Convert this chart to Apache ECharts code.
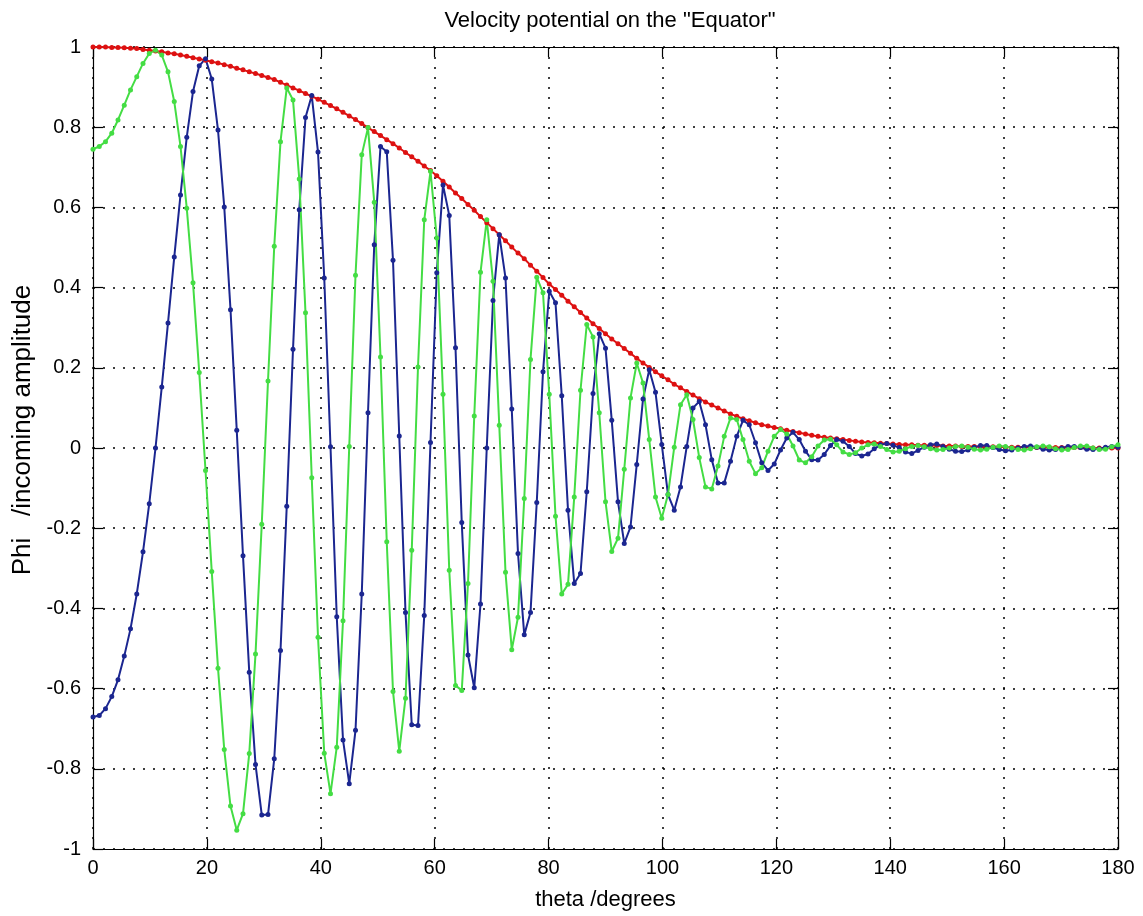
<!DOCTYPE html>
<html>
<head>
<meta charset="utf-8">
<script src="https://cdn.jsdelivr.net/npm/echarts@6/dist/echarts.min.js"></script>
<style>
html,body{margin:0;padding:0;background:#fff;}
#chart{width:1143px;height:916px;}
</style>
</head>
<body>
<div id="chart"></div>
<script>
// Sampling grid: 165 samples spanning 0..180 degrees
const THETA_MAX = 180;
const N_SAMPLES = 165;
const xTicks = [0, 20, 40, 60, 80, 100, 120, 140, 160, 180];
const yTicks = [-1, -0.8, -0.6, -0.4, -0.2, 0, 0.2, 0.4, 0.6, 0.8, 1];

// Red envelope curve
const redPhi = [1.000,1.000,1.000,0.999,0.999,0.998,0.997,0.996,0.994,0.992,
0.990,0.988,0.985,0.983,0.980,0.977,0.973,0.970,0.967,0.963,
0.960,0.956,0.952,0.947,0.943,0.938,0.934,0.929,0.924,0.919,
0.912,0.905,0.898,0.891,0.884,0.877,0.870,0.862,0.854,0.846,
0.837,0.828,0.819,0.809,0.799,0.789,0.779,0.769,0.759,0.748,
0.737,0.726,0.715,0.703,0.692,0.679,0.665,0.651,0.636,0.622,
0.607,0.593,0.577,0.562,0.547,0.532,0.517,0.501,0.486,0.472,
0.456,0.441,0.425,0.409,0.395,0.381,0.366,0.352,0.338,0.324,
0.310,0.298,0.285,0.272,0.260,0.248,0.236,0.224,0.212,0.201,
0.190,0.180,0.170,0.159,0.150,0.141,0.132,0.123,0.115,0.107,
0.100,0.092,0.085,0.079,0.073,0.068,0.063,0.058,0.055,0.051,
0.048,0.044,0.041,0.038,0.035,0.032,0.029,0.027,0.025,0.023,
0.021,0.019,0.017,0.015,0.014,0.013,0.012,0.011,0.010,0.009,
0.008,0.008,0.007,0.007,0.006,0.006,0.005,0.005,0.005,0.004,
0.004,0.004,0.003,0.003,0.003,0.003,0.002,0.002,0.002,0.002,
0.002,0.001,0.001,0.001,0.001,0.001,0.001,0.001,0.001,0.000,
0.000,0.000,0.000,0.000,0.000];

// Blue curve
const bluePhi = [-0.671,-0.667,-0.650,-0.620,-0.578,-0.519,-0.451,-0.364,-0.259,-0.139,
0.000,0.152,0.312,0.476,0.631,0.775,0.889,0.953,0.971,0.920,
0.793,0.601,0.345,0.044,-0.269,-0.559,-0.789,-0.915,-0.914,-0.775,
-0.505,-0.145,0.246,0.594,0.824,0.879,0.738,0.424,0.003,-0.421,
-0.728,-0.837,-0.704,-0.364,0.088,0.507,0.752,0.739,0.468,0.030,
-0.410,-0.690,-0.692,-0.418,0.014,0.437,0.656,0.580,0.250,-0.186,
-0.516,-0.598,-0.389,0.000,0.368,0.532,0.424,0.097,-0.263,-0.466,
-0.410,-0.136,0.190,0.391,0.362,0.130,-0.155,-0.338,-0.313,-0.109,
0.136,0.285,0.249,0.069,-0.134,-0.238,-0.197,-0.041,0.122,0.195,
0.139,0.009,-0.116,-0.155,-0.097,0.004,0.100,0.116,0.058,-0.029,
-0.087,-0.087,-0.033,0.029,0.069,0.058,0.013,-0.037,-0.056,-0.040,
-0.005,0.025,0.039,0.021,-0.008,-0.029,-0.030,-0.016,0.006,0.021,
0.017,0.004,-0.014,-0.020,-0.015,-0.002,0.008,0.011,0.007,0.001,
-0.010,-0.014,-0.006,0.002,0.008,0.010,0.004,-0.003,-0.008,-0.009,
-0.005,0.002,0.006,0.006,0.001,-0.004,-0.007,-0.005,0.000,0.004,
0.005,0.002,-0.003,-0.005,-0.004,0.000,0.004,0.004,0.001,-0.003,
-0.004,-0.002,0.002,0.004,0.002];

// Green curve
const greenPhi = [0.745,0.752,0.764,0.785,0.818,0.855,0.893,0.926,0.959,0.984,
0.992,0.980,0.938,0.864,0.752,0.598,0.412,0.188,-0.056,-0.308,
-0.549,-0.752,-0.893,-0.953,-0.912,-0.762,-0.514,-0.190,0.167,0.503,
0.764,0.898,0.868,0.671,0.337,-0.074,-0.472,-0.761,-0.862,-0.746,
-0.431,0.004,0.431,0.731,0.799,0.613,0.227,-0.234,-0.607,-0.756,
-0.624,-0.255,0.202,0.569,0.690,0.524,0.134,-0.305,-0.592,-0.605,
-0.338,0.080,0.438,0.569,0.416,0.057,-0.310,-0.503,-0.422,-0.126,
0.221,0.426,0.387,0.134,-0.170,-0.364,-0.340,-0.122,0.144,0.308,
0.277,0.088,-0.134,-0.258,-0.225,-0.053,0.125,0.212,0.162,0.021,
-0.122,-0.175,-0.116,0.002,0.108,0.133,0.071,-0.024,-0.097,-0.102,
-0.045,0.029,0.075,0.071,0.021,-0.033,-0.064,-0.049,-0.008,0.029,
0.046,0.035,0.005,-0.030,-0.037,-0.022,0.005,0.020,0.022,0.008,
-0.010,-0.016,-0.012,0.000,0.008,0.010,0.004,-0.004,-0.010,-0.008,
-0.002,0.004,0.006,0.003,-0.002,-0.005,-0.004,0.000,0.004,0.005,
0.002,-0.003,-0.005,-0.003,0.002,0.005,0.004,0.000,-0.004,-0.005,
-0.002,0.003,0.005,0.003,-0.002,-0.005,-0.004,0.001,0.005,0.005,
0.000,-0.004,-0.003,0.003,0.008];

const titleText = 'Velocity potential on the "Equator"';
const xName = 'theta /degrees';
const yName = 'Phi   /incoming amplitude';

function pairs(vals) {
  return vals.map((v, i) => [i * THETA_MAX / (N_SAMPLES - 1), v]);
}

const FONT = 'Liberation Sans, Arial, Helvetica, sans-serif';
const chart = echarts.init(document.getElementById('chart'), null, {renderer: 'canvas'});

const axisBase = {
  type: 'value',
  axisLine: {show: true, onZero: false, lineStyle: {color: '#000', width: 1.2}},
  axisTick: {show: true, inside: true, length: 10, lineStyle: {color: '#000', width: 1.2}},
  splitLine: {show: false},
};

const gridLine = {show: true, lineStyle: {type: [2, 8], color: '#000', width: 1.5}};

const option = {
  animation: false,
  backgroundColor: '#fff',
  title: {
    text: titleText,
    left: 605, top: 5, textAlign: 'center',
    textStyle: {fontFamily: FONT, fontSize: 22, fontWeight: 'normal', color: '#000'}
  },
  grid: {left: 93, right: 25, top: 47, bottom: 65, containLabel: false},
  xAxis: [
    Object.assign({}, axisBase, {
      position: 'bottom', min: xTicks[0], max: xTicks[xTicks.length - 1], interval: 20,
      splitLine: gridLine,
      axisLabel: {color: '#000', fontFamily: FONT, fontSize: 20, margin: 9},
      name: xName, nameLocation: 'middle', nameGap: 40,
      nameTextStyle: {color: '#000', fontFamily: FONT, fontSize: 22}
    }),
    Object.assign({}, axisBase, {
      position: 'top', min: xTicks[0], max: xTicks[xTicks.length - 1], interval: 20,
      axisLabel: {show: false}
    })
  ],
  yAxis: [
    Object.assign({}, axisBase, {
      position: 'left', min: yTicks[0], max: yTicks[yTicks.length - 1], interval: 0.2,
      splitLine: gridLine,
      axisLabel: {color: '#000', fontFamily: FONT, fontSize: 20, margin: 12},
      name: yName, nameLocation: 'middle', nameGap: 57,
      nameTextStyle: {color: '#000', fontFamily: FONT, fontSize: 26, padding: [0, 0, 0, 36]}
    }),
    Object.assign({}, axisBase, {
      position: 'right', min: yTicks[0], max: yTicks[yTicks.length - 1], interval: 0.2,
      axisLabel: {show: false}
    })
  ],
  series: [
    {
      name: 'envelope', type: 'line', data: pairs(redPhi),
      symbol: 'circle', symbolSize: 5, showSymbol: true,
      lineStyle: {color: '#dd1111', width: 2},
      itemStyle: {color: '#dd1111'}
    },
    {
      name: 'blue', type: 'line', data: pairs(bluePhi),
      symbol: 'circle', symbolSize: 5, showSymbol: true,
      lineStyle: {color: '#1b2690', width: 2},
      itemStyle: {color: '#1b2690'}
    },
    {
      name: 'green', type: 'line', data: pairs(greenPhi),
      symbol: 'circle', symbolSize: 5, showSymbol: true,
      lineStyle: {color: '#44dd44', width: 2},
      itemStyle: {color: '#44dd44'}
    }
  ]
};
chart.setOption(option);
</script>
</body>
</html>
